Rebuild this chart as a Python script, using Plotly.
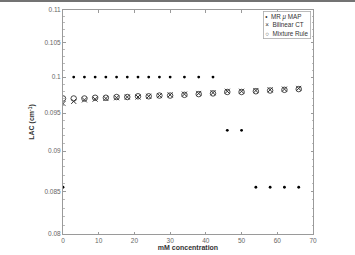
import numpy as np
import plotly.graph_objects as go

# concentrations (mM)
conc = [0, 3, 6, 9, 12, 15, 18, 21, 24, 27, 30, 34, 38, 42, 46, 50, 54, 58, 62, 66]
mr_map = [0.0855, 0.1, 0.1, 0.1, 0.1, 0.1, 0.1, 0.1, 0.1, 0.1, 0.1, 0.1, 0.1, 0.1,
          0.0927, 0.0927, 0.0855, 0.0855, 0.0855, 0.0855]
bilinear_ct = [0.0963, 0.0966, 0.0968, 0.0969, 0.0970, 0.0971, 0.0972, 0.0972, 0.0973, 0.0974,
               0.0975, 0.0976, 0.0977, 0.0978, 0.0980, 0.0980, 0.0981, 0.0982, 0.0983, 0.0984]
mixture_rule = [0.0970, 0.0970, 0.0970, 0.0971, 0.0971, 0.0972, 0.0972, 0.0973, 0.0973, 0.0974,
                0.0974, 0.0975, 0.0976, 0.0977, 0.0979, 0.0979, 0.0980, 0.0981, 0.0982, 0.0983]

y_ticks = [0.08, 0.085, 0.09, 0.095, 0.1, 0.105, 0.11]
y_ticktext = ["0.08", "0.085", "0.09", "0.095", "0.1", "0.105", "0.11"]
x_ticks = [0, 10, 20, 30, 40, 50, 60, 70]

FONT = "Liberation Sans, Arial, sans-serif"
AX = "#9a9a9a"

fig = go.Figure()
fig.add_trace(go.Scatter(x=conc, y=mr_map, mode="markers", name="MR μ MAP",
                         marker=dict(symbol="circle", size=2.8, color="black")))
fig.add_trace(go.Scatter(x=conc, y=bilinear_ct, mode="markers", name="Bilinear CT",
                         marker=dict(symbol="x-thin", size=5, line=dict(color="#333", width=1))))
fig.add_trace(go.Scatter(x=conc, y=mixture_rule, mode="markers", name="Mixture Rule",
                         marker=dict(symbol="circle-open", size=5.5, color="#333",
                                     line=dict(color="#333", width=0.9))))

minor_vals = [round(0.08 + 0.001 * i, 3) for i in range(31)]

fig.update_layout(
    width=355, height=255,
    margin=dict(l=63, r=42, t=10, b=21),
    paper_bgcolor="white", plot_bgcolor="white",
    showlegend=False,
    font=dict(family=FONT, size=6.5, color="#555"),
    xaxis=dict(range=[0, 70], tickvals=x_ticks, ticks="inside", ticklen=2.5,
               tickcolor=AX, showline=True, linecolor=AX, linewidth=1, mirror="ticks",
               showgrid=False, zeroline=False, tickfont=dict(size=6.5, color="#666"),
               title=dict(text="<b>mM concentration</b>", font=dict(size=7, color="#333"),
                          standoff=2),
               automargin=False),
    yaxis=dict(type="log", range=[np.log10(0.08), np.log10(0.11)],
               tickvals=y_ticks, ticktext=y_ticktext, ticks="inside", ticklen=2.5,
               tickcolor=AX, showline=True, linecolor=AX, linewidth=1, mirror="ticks",
               showgrid=False, zeroline=False, tickfont=dict(size=6.5, color="#666"),
               minor=dict(tickvals=minor_vals, ticks="inside", ticklen=1.5, tickcolor="#bbb"),
               title=dict(text="<b>LAC (cm<sup>-1</sup>)</b>", font=dict(size=7, color="#333"),
                          standoff=8),
               automargin=False),
)

# legend box (manual, compact like MATLAB)
fig.add_annotation(xref="paper", yref="paper", x=0.99, y=0.995, xanchor="right", yanchor="top",
                   showarrow=False, align="left",
                   text="•  MR <i>μ</i> MAP<br>×  Bilinear CT<br>○  Mixture Rule",
                   font=dict(family=FONT, size=6.3, color="#333"),
                   bgcolor="white", bordercolor="#aaa", borderwidth=0.8, borderpad=1.5)

# top border line of the original figure panel
fig.add_shape(type="line", xref="paper", yref="paper", x0=-0.26, x1=1.17, y0=1.04, y1=1.04,
              line=dict(color="#444", width=1.5))

fig.write_html("out.html")
